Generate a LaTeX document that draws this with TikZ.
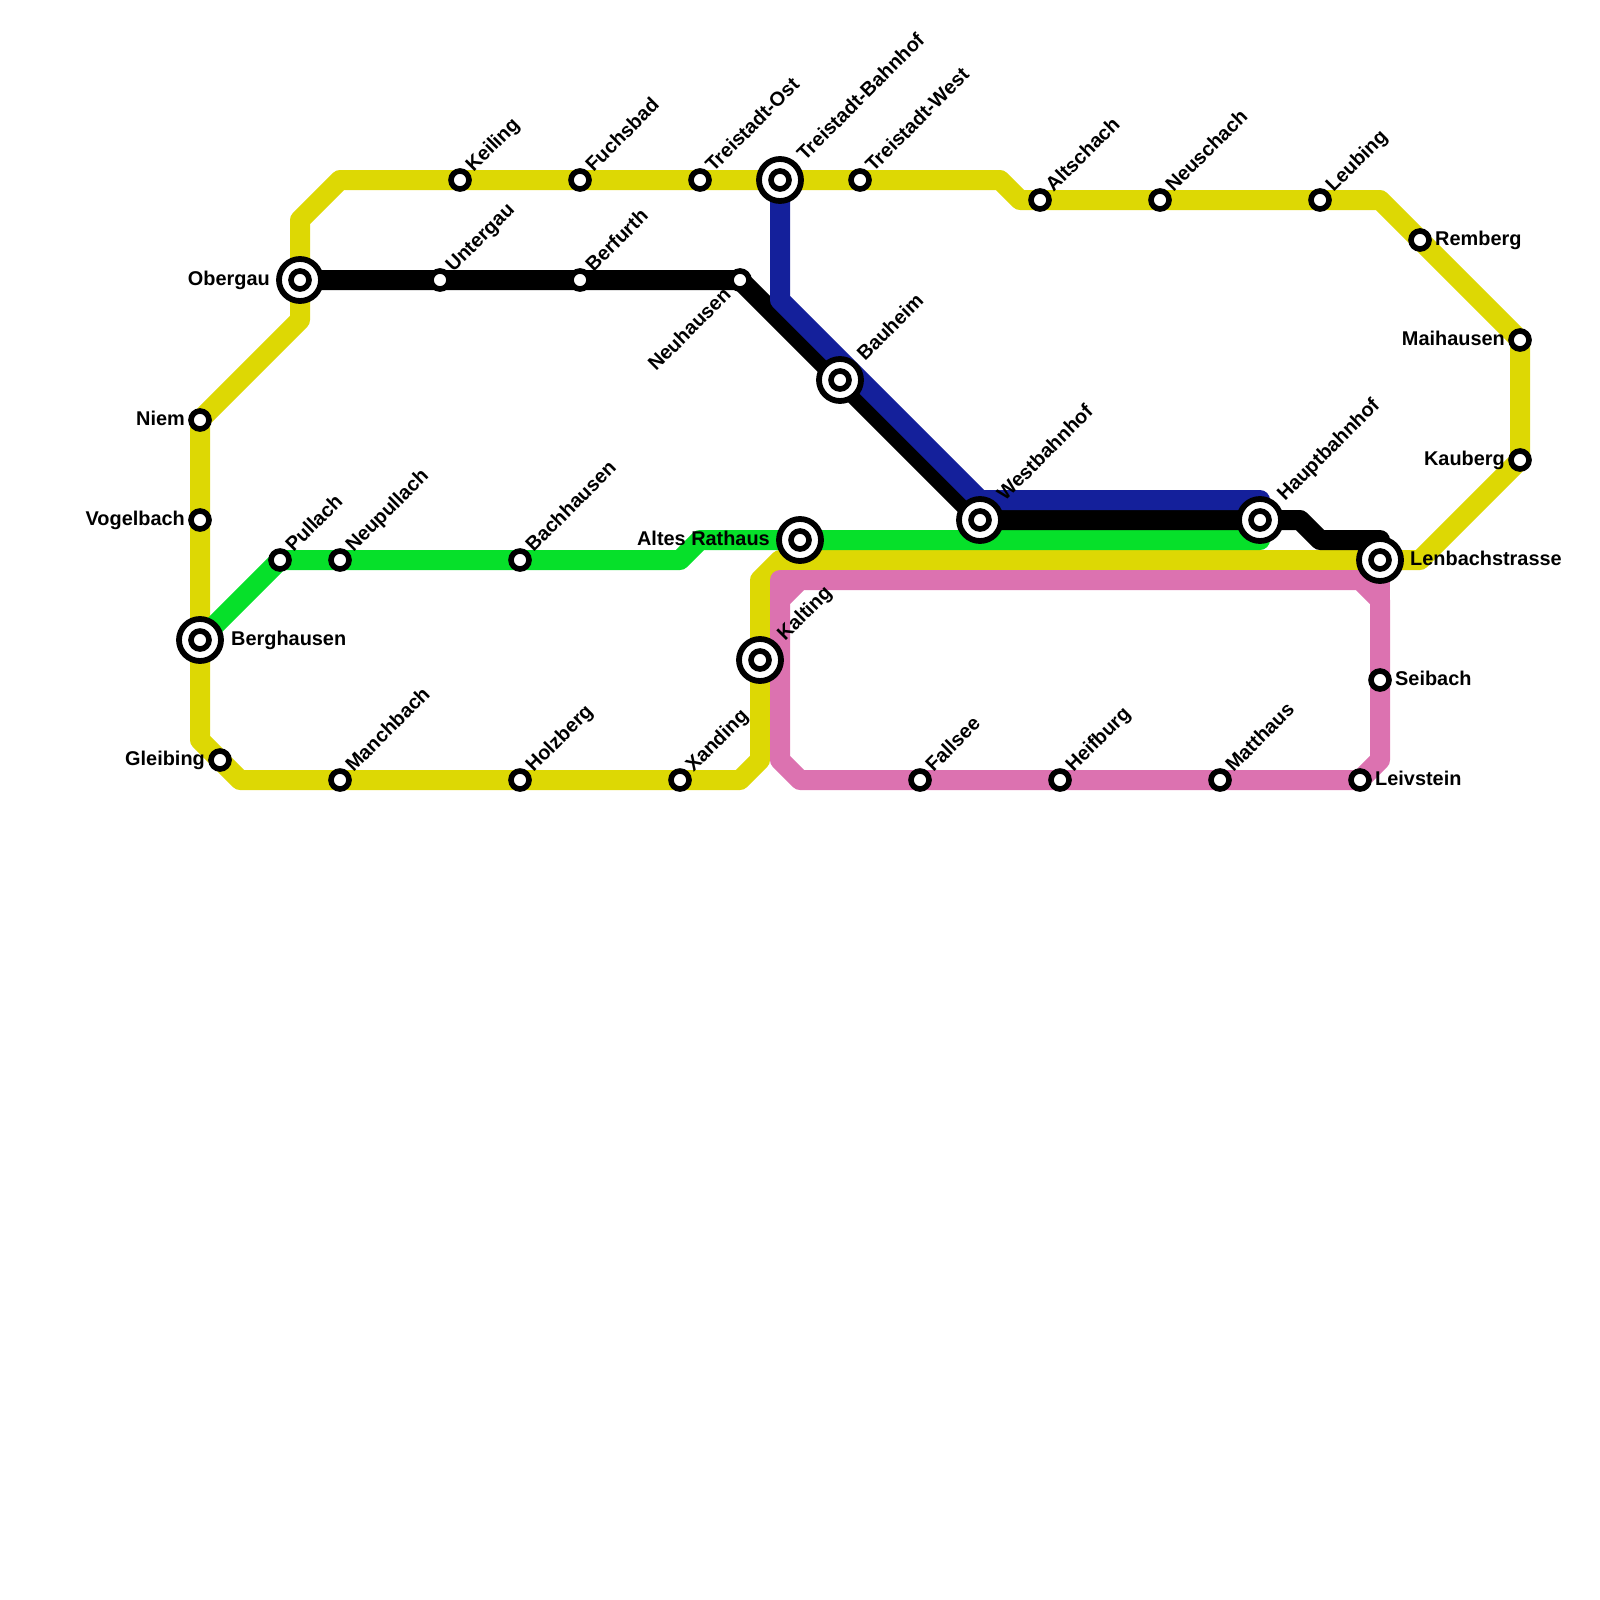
\documentclass[tikz,border=0pt]{standalone}
\usepackage{fontspec}
\setmainfont{Liberation Sans}
\pgfdeclarelayer{lines}
\pgfsetlayers{lines,main}
\definecolor{lyellow}{RGB}{221,216,4}
\definecolor{lgreen}{RGB}{6,224,42}
\definecolor{lblue}{RGB}{20,32,155}
\definecolor{lpink}{RGB}{220,114,176}
\tikzset{
  x=1pt,y=-1pt,
  stationdot/.style={circle,draw=black,fill=white,line width=5.6pt,minimum size=18pt,inner sep=0pt},
  hubdot/.style={circle,draw=black,fill=white,line width=5.8pt,minimum size=42pt,inner sep=0pt,
    path picture={\draw[black,line width=5.6pt] (path picture bounding box.center) circle (9pt);}},
  metro/.style={line width=20pt,line join=round,line cap=round},
  lab/.style={font=\fontsize{19.9}{20}\selectfont\bfseries,inner sep=0pt,text=black},
  labur/.style={lab,rotate=45,anchor=base west},
  labdl/.style={lab,rotate=45,anchor=base east},
  labr/.style={lab,anchor=base west},
  labl/.style={lab,anchor=base east}
}
\begin{document}
\begin{tikzpicture}
\useasboundingbox (0,0) rectangle (1600,1600);
% small stations
\foreach \n/\x/\y in {keiling/460/180,fuchsbad/580/180,treistost/700/180,treistwest/860/180,
  altschach/1040/200,neuschach/1160/200,leubing/1320/200,remberg/1420/240,maihausen/1520/340,kauberg/1520/460,
  seibach/1380/680,leivstein/1360/780,matthaus/1220/780,heifburg/1060/780,fallsee/920/780,
  xanding/680/780,holzberg/520/780,manchbach/340/780,gleibing/220/760,vogelbach/200/520,niem/200/420,
  untergau/440/280,berfurth/580/280,neuhausen/740/280,pullach/280/560,neupullach/340/560,bachhausen/520/560}
  {\node[stationdot] (\n) at (\x,\y) {};}
% interchange stations
\foreach \n/\x/\y in {treistbf/780/180,obergau/300/280,bauheim/840/380,westbf/980/520,hauptbf/1260/520,
  altesrathaus/800/540,lenbach/1380/560,kalting/760/660,berghausen/200/640}
  {\node[hubdot] (\n) at (\x,\y) {};}
% lines
\begin{pgfonlayer}{lines}
\draw[metro,lyellow] (niem.center) -- (300,320) -- (obergau.center) -- (300,220) -- (340,180) -- (keiling.center)
  -- (fuchsbad.center) -- (treistost.center) -- (treistbf.center) -- (treistwest.center) -- (1000,180)
  -- (1020,200) -- (altschach.center) -- (neuschach.center) -- (leubing.center) -- (1380,200) -- (remberg.center)
  -- (maihausen.center) -- (kauberg.center) -- (1420,560) -- (lenbach.center) -- (780,560) -- (760,580)
  -- (kalting.center) -- (760,760) -- (740,780) -- (xanding.center) -- (holzberg.center) -- (manchbach.center)
  -- (240,780) -- (gleibing.center) -- (200,740) -- (berghausen.center) -- (vogelbach.center) -- cycle;
\draw[metro,lpink] (800,580) -- (1360,580) -- (1380,600) -- (seibach.center) -- (1380,760) -- (leivstein.center)
  -- (matthaus.center) -- (heifburg.center) -- (fallsee.center) -- (800,780) -- (780,760) -- (780,600) -- cycle;
\draw[metro,lpink] (780,600) -- (780,580) -- (800,580);
\draw[metro,lpink] (1360,580) -- (1380,580) -- (1380,600);
\draw[metro,lgreen] (berghausen.center) -- (pullach.center) -- (neupullach.center) -- (bachhausen.center)
  -- (680,560) -- (700,540) -- (altesrathaus.center) -- (1260,540);
\draw[metro,black] (obergau.center) -- (untergau.center) -- (berfurth.center) -- (neuhausen.center)
  -- (bauheim.center) -- (westbf.center) -- (hauptbf.center) -- (1300,520) -- (1320,540) -- (1380,540);
\draw[metro,lblue] (treistbf.center) -- (780,300) -- (980,500) -- (1260,500);
\end{pgfonlayer}
% labels rising to the upper right
\foreach \n/\t in {keiling/Keiling,fuchsbad/Fuchsbad,treistost/Treistadt-Ost,treistwest/Treistadt-West,
  altschach/Altschach,neuschach/Neuschach,leubing/Leubing,matthaus/Matthaus,heifburg/Heifburg,fallsee/Fallsee,
  xanding/Xanding,holzberg/Holzberg,manchbach/Manchbach,untergau/Untergau,berfurth/Berfurth,
  pullach/Pullach,neupullach/Neupullach,bachhausen/Bachhausen}
  {\path (\n.center) ++(13.5,-7) node[labur] (\n-lab) {\t};}
\foreach \n/\t in {treistbf/Treistadt-Bahnhof,bauheim/Bauheim,westbf/Westbahnhof,hauptbf/Hauptbahnhof,kalting/Kalting}
  {\path (\n.center) ++(25,-18) node[labur] (\n-lab) {\t};}
\path (neuhausen.center) ++(-8,16) node[labdl] (neuhausen-lab) {Neuhausen};
% labels to the right
\foreach \n/\t in {remberg/Remberg,seibach/Seibach,leivstein/Leivstein}
  {\path (\n.center) ++(15,5) node[labr] (\n-lab) {\t};}
\path (lenbach.center) ++(30,5) node[labr] (lenbach-lab) {Lenbachstrasse};
\path (berghausen.center) ++(31,5) node[labr] (berghausen-lab) {Berghausen};
% labels to the left
\foreach \n/\t in {maihausen/Maihausen,kauberg/Kauberg,vogelbach/Vogelbach,niem/Niem,gleibing/Gleibing}
  {\path (\n.center) ++(-15,5) node[labl] (\n-lab) {\t};}
\path (obergau.center) ++(-30,5) node[labl] (obergau-lab) {Obergau};
\path (altesrathaus.center) ++(-30,5) node[labl] (altesrathaus-lab) {Altes Rathaus};
\end{tikzpicture}
\end{document}
